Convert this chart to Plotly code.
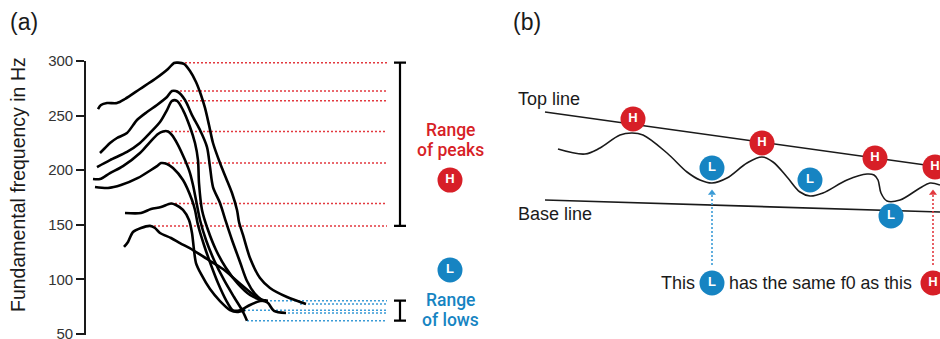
import plotly.graph_objects as go

# ---------------- Panel (a): f0 contours ----------------
# time (arbitrary units) and fundamental frequency (Hz) for each contour
t_a = [98, 101, 107, 117, 125, 140, 155, 168, 174, 178, 184, 190, 196, 201, 205, 209, 213, 220, 226, 232, 237, 239, 243, 250, 260, 270, 287, 306]
f_a = [256.0, 259.7, 261.5, 261.5, 265.2, 274.4, 283.5, 292.7, 298.2, 298.5, 297.3, 290.8, 280.8, 268.9, 257.0, 241.4, 224.9, 206.6, 192.9, 179.1, 163.6, 152.6, 140.7, 119.6, 101.3, 92.2, 83.9, 77.5]

t_b = [100, 105, 110, 117, 127, 137, 147, 157, 167, 172, 178, 185, 192, 200, 207, 210, 213, 220, 226, 232, 240, 247, 255, 262, 268, 274, 286]
f_b = [215.8, 220.3, 224.9, 229.5, 234.1, 246.0, 253.3, 259.7, 267.0, 272.5, 271.6, 264.3, 250.5, 236.8, 221.2, 202.9, 184.6, 170.0, 152.6, 136.1, 116.0, 98.5, 86.7, 81.1, 78.4, 71.1, 69.2]

t_c = [97, 110, 127, 140, 150, 160, 167, 172, 177, 183, 190, 195, 198, 199, 202, 208, 216, 226, 238, 250, 262, 268]
f_c = [202.9, 209.3, 216.7, 224.9, 234.1, 244.1, 255.1, 263.5, 263.5, 255.1, 239.6, 224.9, 209.3, 188.3, 163.6, 145.2, 126.9, 110.4, 95.8, 85.7, 81.1, 80.5]

t_d = [93, 100, 110, 123, 140, 150, 158, 163, 168, 172, 177, 185, 190, 193, 196, 200, 206, 214, 224, 234, 242, 247]
f_d = [191.9, 191.9, 197.4, 203.8, 215.8, 225.8, 233.2, 235.5, 235.5, 232.2, 224.9, 209.3, 197.4, 186.4, 172.7, 154.4, 136.1, 117.8, 99.5, 83.9, 72.0, 62.2]

t_e = [95, 108, 121, 138, 151, 157, 161, 167, 173, 183, 192, 195, 198, 204, 211, 218, 226, 233, 240, 250, 260, 266]
f_e = [184.6, 183.7, 186.4, 192.9, 200.2, 203.8, 206.5, 205.7, 202.0, 191.0, 172.7, 163.6, 149.8, 131.5, 113.2, 96.7, 81.1, 71.7, 71.7, 76.6, 80.2, 80.5]

t_f = [125, 141, 151, 161, 171, 176, 183, 189, 192, 194, 196, 201, 210, 220, 230, 237, 245]
f_f = [160.8, 160.8, 164.5, 166.3, 169.5, 168.1, 163.6, 154.4, 142.5, 126.9, 115.0, 105.0, 91.2, 80.2, 72.0, 70.2, 72.0]

t_g = [124, 128, 133, 141, 150, 155, 160, 171, 180, 193, 207, 223, 237, 250, 260, 266]
f_g = [129.7, 134.3, 143.4, 147.1, 149.0, 147.1, 142.5, 137.9, 133.3, 126.9, 118.7, 109.5, 98.5, 88.5, 82.0, 80.5]

contours = [(t_a, f_a), (t_b, f_b), (t_c, f_c), (t_d, f_d), (t_e, f_e), (t_f, f_f), (t_g, f_g)]

# peaks (H) and lows (L) of the contours
peak_hz = [298.5, 272.5, 263.5, 235.5, 206.5, 169.5, 149.0]
peak_t = [177, 172, 172, 163, 160, 171, 150]
low_hz = [80.5, 77.5, 71.7, 69.2, 62.2]
low_t = [262, 300, 240, 288, 247]
guide_end_t = 387
range_bar_t = 400
badge_t = 450

y_ticks = [50, 100, 150, 200, 250, 300]

# ---------------- Panel (b): schematic declination ----------------
contour_x = [558, 585, 600, 620, 632, 643, 667, 687, 700, 712, 727, 747, 762, 773, 787, 800, 810, 823, 847, 867, 874, 878, 881, 887, 900, 920, 930, 940]
contour_y = [190, 185, 191, 204, 206, 204, 186, 167, 159, 156, 161, 176, 182, 177, 162, 147, 143, 146, 159, 165, 164, 159, 146, 138, 139, 151, 156, 154]
topline_x = [545, 940]
topline_y = [227, 172]
baseline_x = [545, 940]
baseline_y = [139, 127]
h_x = [633, 762, 875, 935]
h_y = [220, 196, 181, 172]
l_x = [712, 810, 891]
l_y = [171, 159, 123]
arrow_l_x = 712
arrow_h_x = 933
arrow_y = [74, 149]
note_y = 56

RED = "#d71f27"
BLUE = "#1684c2"
RED_DOT = "#e2393f"
BLUE_DOT = "#3a9bd6"
INK = "#1a1a1a"
FONT = "Liberation Sans"

fig = go.Figure()

# red guide lines from each peak
for t0, hz in zip(peak_t, peak_hz):
    fig.add_trace(go.Scatter(x=[t0, guide_end_t], y=[hz, hz], mode="lines",
                             line=dict(color=RED_DOT, width=1.5, dash="2px,2px"),
                             xaxis="x", yaxis="y", hoverinfo="skip"))
# blue guide lines from each low
for t0, hz in zip(low_t, low_hz):
    fig.add_trace(go.Scatter(x=[t0, guide_end_t], y=[hz, hz], mode="lines",
                             line=dict(color=BLUE_DOT, width=1.5, dash="2px,2px"),
                             xaxis="x", yaxis="y", hoverinfo="skip"))

# contours
for tt, ff in contours:
    fig.add_trace(go.Scatter(x=tt, y=ff, mode="lines",
                             line=dict(color="black", width=2.6, shape="spline", smoothing=0.8),
                             xaxis="x", yaxis="y", hoverinfo="skip"))

# range bars
for vals in (peak_hz, low_hz):
    lo, hi = min(vals), max(vals)
    fig.add_trace(go.Scatter(x=[range_bar_t], y=[(lo + hi) / 2], mode="markers",
                             marker=dict(size=1, color="rgba(0,0,0,0)"),
                             error_y=dict(type="data", array=[(hi - lo) / 2], symmetric=True,
                                          color="black", thickness=2.2, width=6),
                             xaxis="x", yaxis="y", hoverinfo="skip"))

# H / L badges in panel (a)
fig.add_trace(go.Scatter(x=[badge_t, badge_t], y=[191, 108.6], mode="markers+text",
                         marker=dict(size=25, color=[RED, BLUE], line=dict(width=0)),
                         text=["<b>H</b>", "<b>L</b>"], textposition="middle center",
                         textfont=dict(color="white", size=13, family=FONT),
                         xaxis="x", yaxis="y", hoverinfo="skip", cliponaxis=False))

# ---------- panel (b) ----------
fig.add_trace(go.Scatter(x=topline_x, y=topline_y, mode="lines",
                         line=dict(color=INK, width=1.6), xaxis="x2", yaxis="y2", hoverinfo="skip"))
fig.add_trace(go.Scatter(x=baseline_x, y=baseline_y, mode="lines",
                         line=dict(color=INK, width=1.6), xaxis="x2", yaxis="y2", hoverinfo="skip"))
fig.add_trace(go.Scatter(x=contour_x, y=contour_y, mode="lines",
                         line=dict(color=INK, width=1.6, shape="spline", smoothing=1.0),
                         xaxis="x2", yaxis="y2", hoverinfo="skip"))

# dotted arrows
for ax_, col in ((arrow_l_x, BLUE_DOT), (arrow_h_x, RED_DOT)):
    fig.add_trace(go.Scatter(x=[ax_, ax_], y=[arrow_y[0], arrow_y[1] - 4], mode="lines",
                             line=dict(color=col, width=1.6, dash="2px,2px"),
                             xaxis="x2", yaxis="y2", hoverinfo="skip"))
    fig.add_trace(go.Scatter(x=[ax_], y=[arrow_y[1] - 3], mode="markers",
                             marker=dict(symbol="triangle-up", size=7, color=col),
                             xaxis="x2", yaxis="y2", hoverinfo="skip"))

fig.add_trace(go.Scatter(x=h_x + [arrow_h_x], y=h_y + [note_y], mode="markers+text",
                         marker=dict(size=25, color=RED, line=dict(width=0)),
                         text=["<b>H</b>"] * (len(h_x) + 1), textposition="middle center",
                         textfont=dict(color="white", size=13, family=FONT),
                         xaxis="x2", yaxis="y2", hoverinfo="skip"))
fig.add_trace(go.Scatter(x=l_x + [arrow_l_x], y=l_y + [note_y], mode="markers+text",
                         marker=dict(size=25, color=BLUE, line=dict(width=0)),
                         text=["<b>L</b>"] * (len(l_x) + 1), textposition="middle center",
                         textfont=dict(color="white", size=13, family=FONT),
                         xaxis="x2", yaxis="y2", hoverinfo="skip"))

W, H = 940, 339
annotations = [
    dict(text="(a)", x=8 / W, y=1 - 22 / H, xref="paper", yref="paper", xanchor="left", yanchor="middle",
         showarrow=False, font=dict(size=23, color=INK, family=FONT)),
    dict(text="(b)", x=511 / W, y=1 - 22 / H, xref="paper", yref="paper", xanchor="left", yanchor="middle",
         showarrow=False, font=dict(size=23, color=INK, family=FONT)),
    dict(text="Fundamental frequency in Hz", x=18 / W, y=1 - 185 / H, xref="paper", yref="paper",
         xanchor="center", yanchor="middle", textangle=-90, showarrow=False,
         font=dict(size=19.5, color=INK, family=FONT)),
    dict(text="Range", x=badge_t, y=236.8, xref="x", yref="y", showarrow=False,
         font=dict(size=17.5, color=RED, family="Roboto", weight=500)),
    dict(text="of peaks", x=badge_t, y=218.5, xref="x", yref="y", showarrow=False,
         font=dict(size=17.5, color=RED, family="Roboto", weight=500)),
    dict(text="Range", x=badge_t, y=81.1, xref="x", yref="y", showarrow=False,
         font=dict(size=17.5, color=BLUE, family="Roboto", weight=500)),
    dict(text="of lows", x=badge_t, y=62.5, xref="x", yref="y", showarrow=False,
         font=dict(size=17.5, color=BLUE, family="Roboto", weight=500)),
    dict(text="Top line", x=516, y=240, xref="x2", yref="y2", xanchor="left", showarrow=False,
         font=dict(size=18, color=INK, family=FONT)),
    dict(text="Base line", x=516, y=125, xref="x2", yref="y2", xanchor="left", showarrow=False,
         font=dict(size=18, color=INK, family=FONT)),
    dict(text="This", x=arrow_l_x - 15, y=note_y, xref="x2", yref="y2", xanchor="right", showarrow=False,
         font=dict(size=18, color=INK, family=FONT)),
    dict(text="has the same f0 as this", x=arrow_l_x + 15, y=note_y, xref="x2", yref="y2",
         xanchor="left", showarrow=False, font=dict(size=17.8, color=INK, family=FONT)),
]

fig.update_layout(
    width=W, height=H,
    margin=dict(l=0, r=0, t=0, b=0, autoexpand=False),
    paper_bgcolor="white", plot_bgcolor="rgba(0,0,0,0)",
    showlegend=False,
    xaxis=dict(domain=[86 / W, 500 / W], range=[86, 500], visible=False, fixedrange=True,
               automargin=False),
    yaxis=dict(domain=[4 / H, 278 / H], range=[49.1, 300], anchor="x", automargin=False,
               tickvals=y_ticks, ticktext=[str(v) for v in y_ticks],
               showline=True, linecolor=INK, linewidth=1.6, ticks="outside", ticklen=8,
               tickwidth=1.6, tickcolor=INK, showgrid=False, zeroline=False,
               ticklabeloverflow="allow",
               tickfont=dict(size=15, color="#333333", family=FONT)),
    xaxis2=dict(domain=[500 / W, 1], range=[500, 940], visible=False, anchor="y2", automargin=False),
    yaxis2=dict(domain=[0, 1], range=[0, 339], visible=False, anchor="x2", automargin=False),
    annotations=annotations,
)

fig.write_html("out.html")
